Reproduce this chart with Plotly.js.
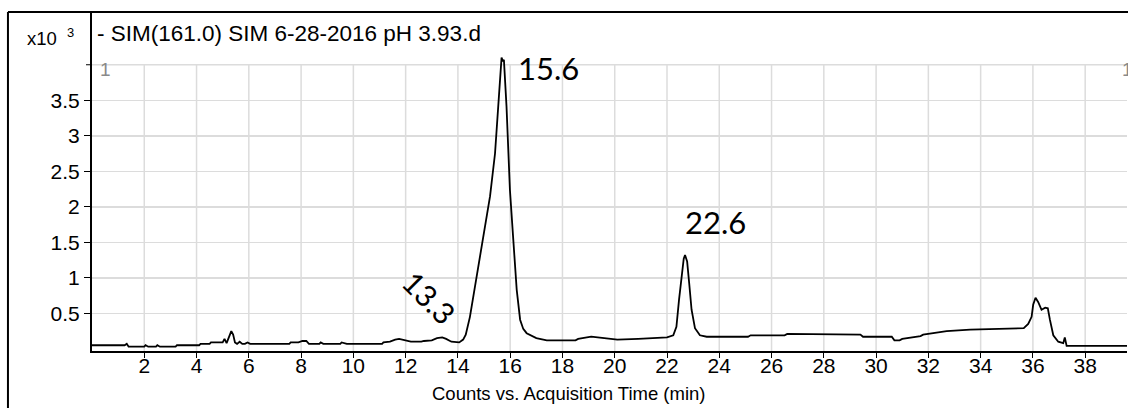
<!DOCTYPE html>
<html><head><meta charset="utf-8">
<script src="https://cdn.plot.ly/plotly-3.0.1.min.js"></script>
<style>html,body{margin:0;padding:0;background:#fff}#chart{width:1128px;height:408px}</style>
</head><body><div id="chart"></div>
<script>
// Acquisition time (min)
const timeMin = [
  0.0, 1.25, 1.33, 1.4, 2.0, 2.05, 2.15, 2.45, 2.5, 2.6, 3.2, 3.25, 4.1, 4.15, 4.5, 4.55,
  5.0, 5.07, 5.15, 5.25, 5.33, 5.4, 5.47, 5.55, 5.65, 5.75, 5.85, 5.95, 6.05,
  7.55, 7.6, 7.9, 8.05, 8.2, 8.3, 8.7, 8.75, 8.85, 9.5, 9.55, 9.75,
  11.1, 11.15, 11.4, 11.6, 11.75, 11.95, 12.2, 12.6, 12.7, 13.0, 13.2, 13.4, 13.55, 13.75,
  14.05, 14.2, 14.3, 14.46, 14.65, 14.84, 15.03, 15.23, 15.42, 15.54, 15.62, 15.67, 15.72,
  15.76, 15.86, 15.99, 16.12, 16.25, 16.38, 16.5, 16.63, 17.0, 17.4,
  18.5, 18.6, 19.1, 19.6, 20.1, 20.9, 21.5, 22.0, 22.24, 22.36, 22.46, 22.55, 22.64, 22.69,
  22.77, 22.85, 22.94, 23.07, 23.26, 23.52, 25.1, 25.2, 26.5, 26.6, 28.2, 29.4, 29.5,
  30.6, 30.7, 30.9, 31.0, 31.3, 31.7, 31.8, 32.1, 32.7, 33.6, 34.6, 35.65, 35.82, 35.95,
  36.01, 36.1, 36.2, 36.33, 36.47, 36.57, 36.65, 36.78, 36.97, 37.16, 37.22, 37.29, 39.6
];
// Counts (x10^3)
const countsK = [
  0.05, 0.05, 0.07, 0.03, 0.03, 0.05, 0.03, 0.03, 0.05, 0.03, 0.03, 0.05, 0.05, 0.07, 0.07, 0.09,
  0.09, 0.14, 0.08, 0.18, 0.25, 0.20, 0.09, 0.07, 0.10, 0.07, 0.07, 0.09, 0.07,
  0.07, 0.09, 0.09, 0.11, 0.11, 0.07, 0.07, 0.09, 0.07, 0.07, 0.09, 0.07,
  0.07, 0.09, 0.10, 0.13, 0.14, 0.12, 0.10, 0.10, 0.11, 0.12, 0.15, 0.16, 0.14, 0.10,
  0.09, 0.13, 0.20, 0.45, 0.88, 1.30, 1.72, 2.15, 2.75, 3.41, 3.90, 4.10, 4.05,
  4.07, 3.41, 2.24, 1.53, 0.83, 0.41, 0.28, 0.22, 0.15, 0.12,
  0.12, 0.14, 0.17, 0.15, 0.13, 0.14, 0.15, 0.16, 0.19, 0.31, 0.69, 1.02, 1.27, 1.32,
  1.23, 0.92, 0.55, 0.29, 0.19, 0.17, 0.17, 0.19, 0.19, 0.21, 0.21, 0.20, 0.17,
  0.17, 0.12, 0.12, 0.14, 0.16, 0.18, 0.20, 0.22, 0.25, 0.27, 0.28, 0.29, 0.35, 0.45,
  0.62, 0.72, 0.66, 0.55, 0.58, 0.57, 0.41, 0.19, 0.10, 0.08, 0.16, 0.04, 0.04
];
const xTicks = [2, 4, 6, 8, 10, 12, 14, 16, 18, 20, 22, 24, 26, 28, 30, 32, 34, 36, 38];
const yTicks = [0.5, 1, 1.5, 2, 2.5, 3, 3.5];
const yTickText = ['0.5', '1', '1.5', '2', '2.5', '3', '3.5'];
const yTopTick = 4;   // unlabeled top tick / grid line
const peakLabels = ['15.6', '22.6', '13.3'];
const chartTitle = '- SIM(161.0) SIM 6-28-2016 pH 3.93.d';
const xAxisTitle = 'Counts vs. Acquisition Time (min)';
const yScaleLabel = 'x10&#160; <sup>3</sup>';
const markerLabel = '1';

const FONT = 'Liberation Sans, Arial, sans-serif';
const PEAKFONT = 'Lato, Open Sans, sans-serif';
const GRID = '#dcdcdc';
const YMIN = -0.031, YMAX = 4.743;

const shapes = xTicks.map(t => ({
  type: 'line', xref: 'x', yref: 'y', x0: t, x1: t, y0: YMIN, y1: yTopTick,
  line: {color: GRID, width: 1.5}, layer: 'below'
}));
// top grid line and its tick mark
shapes.push({type: 'line', xref: 'paper', yref: 'y', x0: 0, x1: 1, y0: yTopTick, y1: yTopTick,
  line: {color: GRID, width: 1.5}, layer: 'below'});
shapes.push({type: 'line', xref: 'paper', yref: 'y', x0: -6 / 1035, x1: 0, y0: yTopTick, y1: yTopTick,
  line: {color: '#000', width: 1}, layer: 'above'});
// outer frame
shapes.push({type: 'line', xref: 'paper', yref: 'paper', x0: -0.0812, x1: -0.0812, y0: -0.2, y1: 1.0,
  line: {color: '#000', width: 2}, layer: 'above'});
shapes.push({type: 'line', xref: 'paper', yref: 'paper', x0: -0.0812, x1: 1.01, y0: 1.0, y1: 1.0,
  line: {color: '#000', width: 2}, layer: 'above'});

const annotations = [
  {text: peakLabels[0], xref: 'x', yref: 'y', x: 17.48, y: 3.955, showarrow: false,
   font: {family: PEAKFONT, size: 31, color: '#000'}},
  {text: peakLabels[1], xref: 'x', yref: 'y', x: 23.87, y: 1.786, showarrow: false,
   font: {family: PEAKFONT, size: 31, color: '#000'}},
  {text: peakLabels[2], xref: 'x', yref: 'y', x: 12.9, y: 0.73, showarrow: false, textangle: 45,
   font: {family: PEAKFONT, size: 30, color: '#000'}},
  {text: yScaleLabel, xref: 'paper', yref: 'paper', x: -0.0648, y: 0.926, xanchor: 'left', yanchor: 'middle',
   showarrow: false, font: {family: FONT, size: 18.5, color: '#000'}},
  {text: markerLabel, xref: 'paper', yref: 'paper', x: 0.0058, y: 0.829, xanchor: 'left', yanchor: 'middle',
   showarrow: false, font: {family: FONT, size: 19, color: '#8a8a8a'}},
  {text: markerLabel, xref: 'paper', yref: 'paper', x: 0.9932, y: 0.829, xanchor: 'left', yanchor: 'middle',
   showarrow: false, font: {family: FONT, size: 19, color: '#8a8a8a'}},
  {text: xAxisTitle, xref: 'paper', yref: 'paper', x: 0.46, y: -0.124, xanchor: 'center', yanchor: 'middle',
   showarrow: false, font: {family: FONT, size: 18.5, color: '#000'}}
];

const trace = {
  x: timeMin, y: countsK, type: 'scatter', mode: 'lines',
  line: {color: '#000', width: 1.8}, hoverinfo: 'x+y'
};

const layout = {
  width: 1128, height: 408,
  margin: {l: 92, r: 1, t: 12, b: 57, pad: 0},
  paper_bgcolor: '#fff', plot_bgcolor: '#fff',
  showlegend: false,
  title: {text: chartTitle, xref: 'paper', yref: 'paper', x: 0.0048, xanchor: 'left',
          y: 0.938, yanchor: 'middle', font: {family: FONT, size: 22.5, color: '#000'}},
  xaxis: {range: [0, 39.6], tickvals: xTicks, ticks: 'outside', ticklen: 5, tickwidth: 1, tickcolor: '#000',
          showgrid: false, zeroline: false, showline: true, linecolor: '#000', linewidth: 2,
          ticklabelstandoff: -10,
          tickfont: {family: FONT, size: 21, color: '#000'}, fixedrange: true},
  yaxis: {range: [YMIN, YMAX], tickvals: yTicks, ticktext: yTickText, ticks: 'outside', ticklen: 6,
          tickwidth: 1, tickcolor: '#000', showgrid: true, gridcolor: GRID, gridwidth: 1.5,
          zeroline: false, showline: true, linecolor: '#000', linewidth: 2,
          tickfont: {family: FONT, size: 21, color: '#000'}, fixedrange: true},
  shapes: shapes,
  annotations: annotations
};

Plotly.newPlot('chart', [trace], layout, {staticPlot: true, displayModeBar: false});
</script>
</body></html>
